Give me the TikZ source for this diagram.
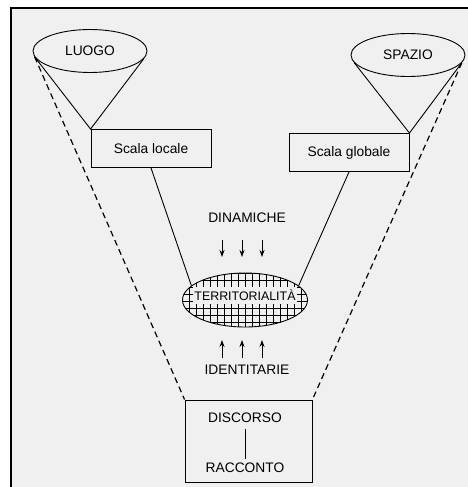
\documentclass[tikz,border=0pt]{standalone}
\usepackage{fontspec}
\setmainfont{Liberation Sans}
\usetikzlibrary{shapes.geometric,arrows.meta,calc}
\definecolor{paper}{HTML}{F0F0F0}
\newlength{\cellsize}
\setlength{\cellsize}{7pt}

\begin{document}
\begin{tikzpicture}[x=1pt,y=-1pt,
txt/.style={font=\fontsize{13.8}{16}\selectfont, inner sep=1pt}, % plain labels
cup/.style={txt, ellipse, draw, line width=0.9pt, minimum width=114, minimum height=43}, % the two "cups" on top
scalebox/.style={txt, rectangle, draw, line width=0.9pt, minimum width=120, minimum height=38}, % scale boxes
cone/.style={line width=0.9pt}, % cone and link lines
frontier/.style={line width=1.2pt, dash pattern=on 6pt off 4pt}, % dashed outer lines
arr/.style={-{Stealth[length=7pt,width=5pt]}, line width=1pt} % small arrows
]

\useasboundingbox (0,0) rectangle (468,487);
\fill[paper] (11,8) rectangle (468,487);
\draw[line width=1.5pt] (11,487) -- (11,8) -- (468,8);

\node[cup] (luogo) at (90,51) {LUOGO};
\node[cup] (spazio) at (408,55) {SPAZIO};
\node[scalebox] (locale) at (151,148.5) {Scala locale};
\node[scalebox] (globale) at (349,152.5) {Scala globale};

\draw[cone] (luogo.186) -- (locale.north west) -- (luogo.-8);
\draw[cone] (spazio.188) -- (globale.north east) -- (spazio.-8);

% hatched territory
\begin{scope}
\clip (245,300) ellipse [x radius=62.5, y radius=27];
\draw[line width=0.6pt] (180,268) grid[step=\cellsize] (312,334);
\end{scope}
\node[ellipse, draw, line width=0.9pt, minimum width=125, minimum height=54] (terr) at (245,300) {};
\node[txt, fill=paper, font=\fontsize{12.4}{14}\selectfont, minimum width=104, minimum height=17] (terrlab) at (245,295.5) {TERRITORIALITÀ};

\draw[cone] (locale.south) -- (terr.165);
\draw[cone] (globale.south) -- (terr.15);

\node[txt] (din) at (247,218) {DINAMICHE};
\node[txt] (ident) at (247,370) {IDENTITARIE};
\foreach \dx in {-25,-5,15} {
  \draw[arr] ($(din.center)+(\dx,22)$) -- ++(0,17);
  \draw[arr] ($(ident.center)+(\dx,-12)$) -- ++(0,-18);
}

\node[rectangle, draw, line width=0.9pt, minimum width=127, minimum height=82] (discbox) at (248.5,441) {};
\node[txt] (disc) at (245,418) {DISCORSO};
\node[txt] (racc) at (245,468) {RACCONTO};
\draw[cone, shorten <=5pt, shorten >=3pt] (disc) -- (racc);

\draw[frontier] (luogo.186) -- (discbox.north west);
\draw[frontier] (spazio.-8) -- (discbox.north east);

\end{tikzpicture}
\end{document}
